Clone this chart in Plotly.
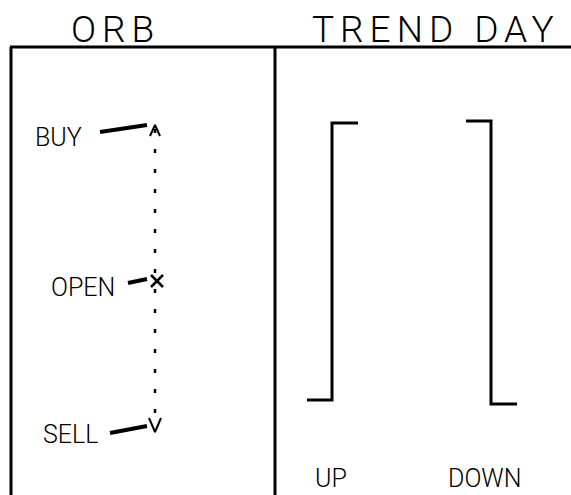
import plotly.graph_objects as go

# ---- diagram data ----
titles = ["ORB", "TREND DAY"]
orb_labels = ["BUY", "OPEN", "SELL"]
orb_levels = [125, 281, 432]          # price levels (drawn top->bottom)
trend_labels = ["UP", "DOWN"]
trend_open = [400, 121]
trend_close = [123, 404]

W, H = 571, 495
INK = "black"
FONT = "Roboto"

fig = go.Figure()

def seg(xs, ys, w=3, dash=None):
    fig.add_trace(go.Scatter(x=xs, y=ys, mode="lines", hoverinfo="skip",
                             line=dict(color=INK, width=w, dash=dash), showlegend=False))

# frame
seg([10, W], [47, 47], 3)
seg([11, 11], [47, H], 3)
seg([275, 275], [47, H], 3)

# ORB panel
ax = 155
seg([ax, ax], [orb_levels[0] + 4, orb_levels[2] - 4], 2.5, "4px,16px")
# arrowheads
top, bot = orb_levels[0], orb_levels[2]
seg([ax - 5, ax, ax + 5], [top + 11, top, top + 11], 2)
seg([ax - 6, ax, ax + 6], [bot - 14, bot, bot - 14], 2)
# open marker
fig.add_trace(go.Scatter(x=[ax + 2], y=[orb_levels[1]], mode="markers", hoverinfo="skip",
                         marker=dict(symbol="x-thin", size=12, line=dict(color=INK, width=2.5)),
                         showlegend=False))
label_x = [58, 83, 70]
label_dy = [12, 6, 2]
leader_start = [100, 128, 110]
leader_dy0 = [7, 2, 1]
leader_dy1 = [0, -2, -6]
for i, (lab, lv) in enumerate(zip(orb_labels, orb_levels)):
    seg([leader_start[i], 147], [lv + leader_dy0[i], lv + leader_dy1[i]], 4)
    fig.add_annotation(x=label_x[i], y=lv + label_dy[i], text=lab, showarrow=False,
                       font=dict(family=FONT, size=25, color=INK, weight=300),
                       xanchor="center", yanchor="middle")

# TREND DAY panel
trend_x = [332, 491]
for lab, tx, o, c in zip(trend_labels, trend_x, trend_open, trend_close):
    seg([tx - 25, tx, tx, tx + 26], [o, o, c, c], 3)
    fig.add_annotation(x=tx - 1 if lab == "UP" else tx - 6, y=H, text=lab, showarrow=False,
                       font=dict(family=FONT, size=25, color=INK, weight=300),
                       xanchor="center", yanchor="bottom")

# titles
fig.add_annotation(x=115, y=29, text=titles[0], showarrow=False,
                   font=dict(family=FONT, size=37, color=INK, weight=300),
                   xanchor="center", yanchor="middle")
fig.add_annotation(x=436, y=29, text=titles[1], showarrow=False,
                   font=dict(family=FONT, size=37, color=INK, weight=300),
                   xanchor="center", yanchor="middle")

fig.update_layout(width=W, height=H, margin=dict(l=0, r=0, t=0, b=0),
                  plot_bgcolor="white", paper_bgcolor="white",
                  xaxis=dict(range=[0, W], visible=False, fixedrange=True),
                  yaxis=dict(range=[H, 0], visible=False, fixedrange=True))

post = """
document.body.style.margin='0';document.body.style.overflow='hidden';
var t=document.querySelectorAll('.annotation-text');
t.forEach(function(e){
  var s=e.textContent;
  if(s==='ORB'){e.style.letterSpacing='6px';}
  if(s==='TREND DAY'){e.style.letterSpacing='6px';}
});
"""
fig.write_html("out.html", config={"displayModeBar": False}, post_script=post)
